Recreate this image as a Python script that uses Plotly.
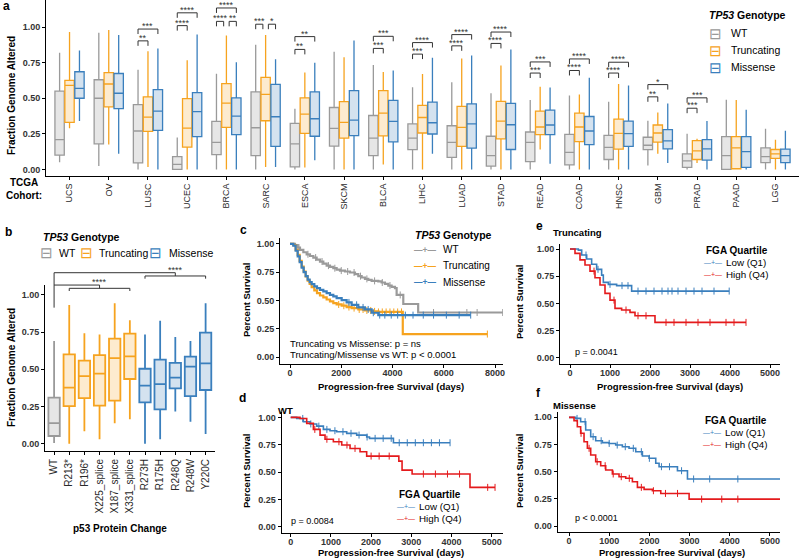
import plotly.graph_objects as go

FONT = "Liberation Sans, Arial, Helvetica, sans-serif"
W, H = 799, 559

GRAY, GRAY_FILL = "#9a9a9a", "#e6e6e6"
ORANGE, ORANGE_FILL = "#f6a31f", "#fdebcf"
BLUE, BLUE_FILL = "#3a7fbd", "#d4e2ef"
RED = "#e41a1c"

# ---------------- Panel a data ----------------
cohorts = ["UCS", "OV", "LUSC", "UCEC", "BRCA", "SARC", "ESCA", "SKCM", "BLCA", "LIHC",
           "LUAD", "STAD", "READ", "COAD", "HNSC", "GBM", "PRAD", "PAAD", "LGG"]
genotypes = ["WT", "Truncating", "Missense"]

wt_lo = [0.05, 0.025, 0, 0, 0, 0, 0, 0, 0, 0, 0, 0, 0, 0, 0, 0.028, 0, 0, 0]
wt_q1 = [0.10, 0.18, 0.046, 0, 0.104, 0.097, 0.018, 0.164, 0.097, 0.139, 0.085, 0.023, 0.055, 0.032, 0.07, 0.139, 0.014, 0, 0.048]
wt_med = [0.21, 0.50, 0.27, 0.035, 0.19, 0.293, 0.18, 0.289, 0.22, 0.22, 0.19, 0.097, 0.19, 0.12, 0.155, 0.17, 0.06, 0.097, 0.09]
wt_q3 = [0.55, 0.63, 0.455, 0.09, 0.337, 0.545, 0.323, 0.435, 0.379, 0.32, 0.307, 0.233, 0.263, 0.247, 0.24, 0.226, 0.11, 0.23, 0.152]
wt_hi = [0.82, 0.96, 0.70, 0.224, 0.672, 0.875, 0.427, 0.827, 0.734, 0.577, 0.612, 0.536, 0.487, 0.52, 0.476, 0.342, 0.25, 0.49, 0.286]

tr_lo = [0.29, 0.175, 0.018, 0, 0, 0.018, 0.014, 0, 0.035, 0, 0, 0, 0.14, 0, 0, 0.11, 0.046, 0, 0]
tr_q1 = [0.33, 0.44, 0.268, 0.157, 0.296, 0.342, 0.254, 0.22, 0.236, 0.256, 0.162, 0.215, 0.245, 0.196, 0.143, 0.192, 0.07, 0.005, 0.078]
tr_med = [0.59, 0.60, 0.367, 0.29, 0.466, 0.527, 0.388, 0.33, 0.395, 0.365, 0.296, 0.34, 0.298, 0.298, 0.254, 0.256, 0.13, 0.152, 0.11]
tr_q3 = [0.626, 0.68, 0.51, 0.497, 0.603, 0.647, 0.503, 0.476, 0.554, 0.45, 0.443, 0.478, 0.41, 0.395, 0.353, 0.312, 0.203, 0.23, 0.14]
tr_hi = [0.965, 0.98, 0.83, 0.767, 0.94, 0.945, 0.68, 0.788, 0.684, 0.67, 0.78, 0.73, 0.58, 0.527, 0.60, 0.40, 0.215, 0.487, 0.208]

mi_lo = [0.34, 0.11, 0, 0, 0, 0.018, 0.065, 0, 0, 0.11, 0, 0, 0.04, 0, 0, 0.046, 0, 0, 0]
mi_q1 = [0.50, 0.427, 0.275, 0.23, 0.245, 0.162, 0.233, 0.238, 0.194, 0.249, 0.15, 0.14, 0.245, 0.175, 0.162, 0.145, 0.065, 0.014, 0.048]
mi_med = [0.57, 0.535, 0.41, 0.406, 0.374, 0.37, 0.356, 0.346, 0.337, 0.328, 0.32, 0.314, 0.312, 0.27, 0.252, 0.20, 0.145, 0.125, 0.097]
mi_q3 = [0.686, 0.674, 0.56, 0.54, 0.503, 0.598, 0.545, 0.554, 0.485, 0.473, 0.46, 0.464, 0.416, 0.372, 0.34, 0.28, 0.21, 0.23, 0.143]
mi_hi = [0.836, 0.945, 0.85, 0.947, 0.753, 0.774, 0.75, 0.905, 0.695, 0.785, 0.80, 0.843, 0.575, 0.644, 0.59, 0.464, 0.34, 0.42, 0.272]

# significance brackets of panel a
sig_cohort = ["LUSC", "LUSC", "UCEC", "UCEC", "BRCA", "BRCA", "BRCA", "SARC", "SARC", "ESCA", "ESCA",
              "BLCA", "BLCA", "LIHC", "LIHC", "LUAD", "LUAD", "STAD", "STAD", "READ", "READ",
              "COAD", "COAD", "HNSC", "HNSC", "GBM", "GBM", "PRAD", "PRAD"]
sig_from = ["WT", "WT", "WT", "WT", "WT", "Truncating", "WT", "WT", "Truncating", "WT", "WT",
            "WT", "WT", "WT", "WT", "WT", "WT", "WT", "WT", "WT", "WT",
            "WT", "WT", "WT", "WT", "WT", "WT", "WT", "WT"]
sig_to = ["Truncating", "Missense", "Truncating", "Missense", "Truncating", "Missense", "Missense", "Truncating", "Missense", "Truncating", "Missense",
          "Truncating", "Missense", "Truncating", "Missense", "Truncating", "Missense", "Truncating", "Missense", "Truncating", "Missense",
          "Truncating", "Missense", "Truncating", "Missense", "Truncating", "Missense", "Truncating", "Missense"]
sig_y = [0.903, 0.986, 1.01, 1.10, 1.04, 1.04, 1.134, 1.02, 1.02, 0.843, 0.933,
         0.85, 0.935, 0.81, 0.891, 0.868, 0.947, 0.885, 0.965, 0.677, 0.755,
         0.695, 0.776, 0.677, 0.753, 0.51, 0.596, 0.43, 0.503]
sig_label = ["**", "***", "****", "****", "****", "**", "****", "***", "*", "**", "**",
             "***", "***", "***", "****", "****", "****", "****", "****", "***", "***",
             "****", "****", "****", "****", "**", "*", "***", "***"]

# ---------------- Panel b data ----------------
mutations = ["WT", "R213*", "R196*", "X225_splice", "X187_splice", "X331_splice",
             "R273H", "R175H", "R248Q", "R248W", "Y220C"]
mut_type = ["WT", "Truncating", "Truncating", "Truncating", "Truncating", "Truncating",
            "Missense", "Missense", "Missense", "Missense", "Missense"]
mut_lo = [0.005, 0, 0.083, 0.03, 0.137, 0.164, 0, 0.03, 0.217, 0.148, 0.065]
mut_q1 = [0.052, 0.253, 0.307, 0.256, 0.289, 0.435, 0.278, 0.231, 0.372, 0.32, 0.361]
mut_med = [0.139, 0.377, 0.455, 0.471, 0.576, 0.587, 0.39, 0.40, 0.444, 0.518, 0.54]
mut_q3 = [0.31, 0.60, 0.558, 0.596, 0.706, 0.74, 0.504, 0.565, 0.543, 0.585, 0.747]
mut_hi = [0.69, 0.933, 0.742, 0.735, 0.944, 0.83, 0.735, 0.827, 0.717, 0.69, 0.944]

b_cmp_first = ["R213*", "R273H"]
b_cmp_last = ["X331_splice", "Y220C"]
b_cmp_outer = [1.067, 1.15]
b_cmp_inner = [1.045, 1.128]
b_cmp_label = ["****", "****"]
b_wt_start = 0.915

# ---------------- Panel c data (Kaplan-Meier by genotype) ----------------
c_wt_t = [0, 195, 300, 390, 520, 650, 780, 910, 1040, 1170, 1300, 1430, 1560, 1690, 1820, 1950, 2145, 2340,
          2535, 2665, 2795, 2925, 3055, 3185, 3445, 3575, 3705, 3835, 3965, 4095, 4160, 4420, 5000]
c_wt_s = [1.0, 0.99, 0.968, 0.947, 0.927, 0.909, 0.894, 0.88, 0.862, 0.845, 0.827, 0.809, 0.798, 0.786, 0.774,
          0.765, 0.757, 0.748, 0.733, 0.716, 0.704, 0.692, 0.683, 0.674, 0.669, 0.66, 0.648, 0.633, 0.622, 0.61,
          0.55, 0.47, 0.395]
c_wt_end = 8300
c_wt_cens = [350, 700, 1000, 1250, 1500, 1750, 2000, 2250, 2500, 2750, 3000, 3300, 3600, 3900, 4300, 5600, 6900, 7300, 8300]

c_tr_t = [0, 130, 220, 300, 377, 455, 533, 611, 689, 767, 845, 949, 1053, 1170, 1300, 1430, 1560, 1690, 1820,
          2015, 2210, 2405, 2665, 2925, 3185, 3445, 4400]
c_tr_s = [1.0, 0.99, 0.947, 0.903, 0.85, 0.80, 0.757, 0.713, 0.677, 0.648, 0.619, 0.59, 0.566, 0.545, 0.528,
          0.51, 0.493, 0.478, 0.466, 0.455, 0.443, 0.434, 0.422, 0.413, 0.405, 0.40, 0.205]
c_tr_end = 7700
c_tr_cens = [1900, 2100, 2300, 2500, 2700, 2850, 3000, 3150, 3300, 3450, 3600, 3750, 3900, 4050, 4200, 4350, 7700]

c_mi_t = [0, 130, 220, 300, 377, 455, 533, 611, 689, 767, 845, 949, 1053, 1170, 1300, 1430, 1560, 1690, 1820,
          2015, 2210, 2405, 2665, 2925, 3185, 3445]
c_mi_s = [1.0, 0.985, 0.94, 0.89, 0.839, 0.792, 0.751, 0.716, 0.686, 0.663, 0.645, 0.625, 0.61, 0.595, 0.581,
          0.566, 0.551, 0.537, 0.522, 0.504, 0.484, 0.463, 0.44, 0.422, 0.393, 0.372]
c_mi_end = 7050
c_mi_cens = [2300, 2600, 2850, 3050, 3250, 3500, 3700, 3950, 4200, 4500, 4800, 5200, 5600, 6100, 6600, 7050]

# ---------------- Panels d, e, f data (FGA quartile) ----------------
d_lo_t = [0, 149, 315, 481, 647, 813, 978, 1144, 1393, 1642, 1891, 1960, 2555]
d_lo_s = [1.0, 0.99, 0.96, 0.94, 0.92, 0.89, 0.878, 0.869, 0.854, 0.838, 0.82, 0.808, 0.768]
d_lo_end = 3964
d_lo_cens = [300, 500, 700, 900, 1100, 1300, 1500, 1700, 1900, 2100, 2300, 2500, 2700, 2900, 3100, 3300, 3500, 3700, 3964]
d_hi_t = [0, 232, 398, 564, 730, 854, 1061, 1269, 1476, 1725, 1890, 2690, 2770, 3020, 4460]
d_hi_s = [1.0, 0.99, 0.945, 0.89, 0.838, 0.80, 0.777, 0.747, 0.716, 0.686, 0.646, 0.60, 0.518, 0.482, 0.36]
d_hi_end = 5083
d_hi_cens = [600, 900, 1200, 1400, 1600, 2000, 2200, 2450, 3300, 3600, 3900, 4200, 4900, 5083]

e_lo_t = [0, 208, 292, 417, 541, 666, 791, 833, 958, 1166, 1541]
e_lo_s = [1.0, 0.99, 0.945, 0.908, 0.86, 0.813, 0.76, 0.693, 0.675, 0.663, 0.613]
e_lo_end = 3980
e_lo_cens = [400, 700, 1000, 1300, 1450, 1700, 1900, 2100, 2300, 2450, 2550, 2700, 2900, 3100, 3300, 3600, 3980]
e_hi_t = [0, 125, 250, 375, 500, 625, 750, 875, 1000, 1125, 1291, 1500, 1625, 2125]
e_hi_s = [1.0, 0.96, 0.90, 0.853, 0.797, 0.736, 0.669, 0.592, 0.53, 0.454, 0.439, 0.417, 0.386, 0.325]
e_hi_end = 4400
e_hi_cens = [600, 1100, 1400, 1700, 1900, 2400, 2600, 2900, 3200, 3500, 3900, 4100, 4400]

f_lo_t = [0, 166, 290, 415, 540, 664, 830, 996, 1162, 1328, 1494, 1660, 1826, 1992, 2158, 2241, 2698, 2947]
f_lo_s = [1.0, 0.99, 0.96, 0.883, 0.822, 0.785, 0.767, 0.76, 0.745, 0.73, 0.715, 0.684, 0.644, 0.623, 0.577,
          0.546, 0.509, 0.433]
f_lo_end = 5270
f_lo_cens = [200, 400, 600, 800, 1000, 1200, 1400, 1600, 1800, 2000, 2300, 2500, 2800, 3100, 3500, 4200, 5270]
f_hi_t = [0, 125, 207, 290, 374, 457, 540, 664, 789, 913, 1079, 1245, 1411, 1577, 1702, 1868, 2075, 2283, 2988]
f_hi_s = [1.0, 0.97, 0.914, 0.853, 0.776, 0.715, 0.653, 0.592, 0.555, 0.515, 0.479, 0.454, 0.439, 0.408, 0.356,
          0.337, 0.325, 0.30, 0.248]
f_hi_end = 5270
f_hi_cens = [300, 500, 700, 900, 1100, 1300, 1500, 1800, 2100, 2400, 2700, 3300, 3800, 4200, 5270]

frac_ticks = [0, 0.25, 0.5, 0.75, 1.0]

# ---------------- helpers ----------------
def px_x(p):
    return p / W


def px_y(p):
    return 1 - p / H


BOXGAP = 0.24
COL = {"WT": (GRAY, GRAY_FILL), "Truncating": (ORANGE, ORANGE_FILL), "Missense": (BLUE, BLUE_FILL)}
KMCOL = {"WT": GRAY, "Truncating": ORANGE, "Missense": BLUE}

fig = go.Figure()

# panel a boxes
stats_a = {"WT": (wt_lo, wt_q1, wt_med, wt_q3, wt_hi),
           "Truncating": (tr_lo, tr_q1, tr_med, tr_q3, tr_hi),
           "Missense": (mi_lo, mi_q1, mi_med, mi_q3, mi_hi)}
for g in genotypes:
    lo, q1, med, q3, hi = stats_a[g]
    fig.add_trace(go.Box(name=g, x=cohorts, lowerfence=lo, q1=q1, median=med, q3=q3, upperfence=hi,
                         line=dict(color=COL[g][0], width=1.3), fillcolor=COL[g][1], whiskerwidth=0,
                         boxpoints=False, offsetgroup=g, xaxis="x", yaxis="y", hoverinfo="skip"))

# panel b boxes
for g in genotypes:
    idx = [i for i, t in enumerate(mut_type) if t == g]
    fig.add_trace(go.Box(name=g, x=[mutations[i] for i in idx],
                         lowerfence=[mut_lo[i] for i in idx], q1=[mut_q1[i] for i in idx],
                         median=[mut_med[i] for i in idx], q3=[mut_q3[i] for i in idx],
                         upperfence=[mut_hi[i] for i in idx],
                         line=dict(color=COL[g][0], width=1.8), fillcolor=COL[g][1], whiskerwidth=0,
                         boxpoints=False, width=0.75, xaxis="x2", yaxis="y2", hoverinfo="skip"))
# empty helper trace so the bracket overlay axis exists
fig.add_trace(go.Scatter(x=[], y=[], xaxis="x2", yaxis="y7", hoverinfo="skip"))


def step_value(times, surv, t):
    v = surv[0]
    for ti, si in zip(times, surv):
        if ti <= t:
            v = si
        else:
            break
    return v


def km(times, surv, end, cens, color, width, xa, ya):
    fig.add_trace(go.Scatter(x=times + [end], y=surv + [surv[-1]], mode="lines",
                             line=dict(color=color, width=width, shape="hv"),
                             xaxis=xa, yaxis=ya, hoverinfo="skip"))
    fig.add_trace(go.Scatter(x=cens, y=[step_value(times, surv, t) for t in cens], mode="markers",
                             marker=dict(symbol="line-ns-open", size=5, color=color,
                                         line=dict(color=color, width=1)),
                             xaxis=xa, yaxis=ya, hoverinfo="skip"))


km(c_wt_t, c_wt_s, c_wt_end, c_wt_cens, GRAY, 2.2, "x3", "y3")
km(c_tr_t, c_tr_s, c_tr_end, c_tr_cens, ORANGE, 2.2, "x3", "y3")
km(c_mi_t, c_mi_s, c_mi_end, c_mi_cens, BLUE, 2.2, "x3", "y3")

km(d_lo_t, d_lo_s, d_lo_end, d_lo_cens, BLUE, 1.6, "x4", "y4")
km(d_hi_t, d_hi_s, d_hi_end, d_hi_cens, RED, 1.6, "x4", "y4")
km(e_lo_t, e_lo_s, e_lo_end, e_lo_cens, BLUE, 1.6, "x5", "y5")
km(e_hi_t, e_hi_s, e_hi_end, e_hi_cens, RED, 1.6, "x5", "y5")
km(f_lo_t, f_lo_s, f_lo_end, f_lo_cens, BLUE, 1.6, "x6", "y6")
km(f_hi_t, f_hi_s, f_hi_end, f_hi_cens, RED, 1.6, "x6", "y6")

# ---------------- shapes: significance brackets ----------------
shapes = []
LINE = dict(color="#333333", width=1)
off = {g: (k - 1) * (1 - BOXGAP) / 3 for k, g in enumerate(genotypes)}
annos = []
INSET = 0.07
for i, (c, g1, g2, yv, lab) in enumerate(zip(sig_cohort, sig_from, sig_to, sig_y, sig_label)):
    ci = cohorts.index(c)
    x1, x2 = ci + off[g1], ci + off[g2]
    # pull apart two brackets that meet on the same box at the same height
    for j, (c2, h1, h2, y2) in enumerate(zip(sig_cohort, sig_from, sig_to, sig_y)):
        if j != i and c2 == c and y2 == yv:
            if h1 == g2:
                x2 -= INSET
            if h2 == g1:
                x1 += INSET
    tip = 0.035
    shapes.append(dict(type="path", xref="x", yref="y",
                       path=f"M{x1},{yv - tip} L{x1},{yv} L{x2},{yv} L{x2},{yv - tip}", line=LINE))
    annos.append(dict(x=(x1 + x2) / 2, y=yv, xref="x", yref="y", text=lab, showarrow=False,
                      yanchor="bottom", yshift=-4, font=dict(family=FONT, size=9, color="#333333")))

wi = mutations.index("WT")
shapes.append(dict(type="line", xref="x2", yref="y7", x0=wi, x1=wi, y0=b_wt_start, y1=max(b_cmp_outer), line=LINE))
for f0, l0, yo, yi, lab in zip(b_cmp_first, b_cmp_last, b_cmp_outer, b_cmp_inner, b_cmp_label):
    i0, i1 = mutations.index(f0), mutations.index(l0)
    cx = (i0 + i1) / 2
    shapes.append(dict(type="path", xref="x2", yref="y7",
                       path=f"M{wi},{yo} L{cx},{yo} L{cx},{yi}", line=LINE))
    shapes.append(dict(type="path", xref="x2", yref="y7",
                       path=f"M{i0},{yi - 0.018} L{i0},{yi} L{i1},{yi} L{i1},{yi - 0.018}", line=LINE))
    annos.append(dict(x=cx, y=yo, xref="x2", yref="y7", text=lab, showarrow=False,
                      yanchor="bottom", yshift=-4, font=dict(family=FONT, size=9, color="#333333")))


# ---------------- text annotations ----------------
def txt(x, y, s, size=10, bold=False, xanchor="left", yanchor="middle", angle=0, color="black"):
    annos.append(dict(x=px_x(x), y=px_y(y), xref="paper", yref="paper", text=s, showarrow=False,
                      xanchor=xanchor, yanchor=yanchor, textangle=angle,
                      font=dict(family=FONT, size=size, color=color, weight="bold" if bold else "normal")))


def colored(s, color):
    return f'<span style="color:{color}">{s}</span>'


# panel letters
txt(1, 6, "a", 12, True)
txt(3, 232, "b", 12, True)
txt(238, 230, "c", 12, True)
txt(237, 398, "d", 12, True)
txt(534, 226, "e", 12, True)
txt(534, 393, "f", 12, True)

# axis titles
txt(11, 96, "Fraction Genome Altered", 10, True, "center", "middle", -90)
txt(11, 368, "Fraction Genome Altered", 10, True, "center", "middle", -90)
txt(120, 528, "p53 Protein Change", 10, True, "center")
txt(4, 189, "TCGA<br>Cohort:", 10, True, "left")
txt(246, 300, "Percent Survival", 9.5, True, "center", "middle", -90)
txt(246, 471, "Percent Survival", 9.5, True, "center", "middle", -90)
txt(519, 302, "Percent Survival", 9.5, True, "center", "middle", -90)
txt(519, 471, "Percent Survival", 9.5, True, "center", "middle", -90)
txt(391, 386, "Progression-free Survival (days)", 9.5, True, "center")
txt(391, 552, "Progression-free Survival (days)", 9.5, True, "center")
txt(670, 386, "Progression-free Survival (days)", 9.5, True, "center")
txt(672, 552, "Progression-free Survival (days)", 9.5, True, "center")

# panel subtitles and p-values
txt(276, 410, "WT", 9.5, True)
txt(551, 233, "Truncating", 9.5, True)
txt(551, 405, "Missense", 9.5, True)
txt(288, 343, "Truncating vs Missense: p = ns", 9.5)
txt(288, 354, "Truncating/Missense vs WT: p < 0.0001", 9.5)
txt(289, 521, "p = 0.0084", 9)
txt(573, 352, "p = 0.0041", 9)
txt(573, 518, "p < 0.0001", 9)

LEG_TITLE = "<i>TP53</i> Genotype"
# legend of panel a (vertical, box keys)
txt(707, 15, LEG_TITLE, 10.5, True)
for k, g in enumerate(genotypes):
    txt(715, 33 + 17 * k, colored("⊟", COL[g][0]), 15, False, "center")
    txt(729, 33 + 17 * k, g, 10.5)

# legend of panel b (horizontal, box keys)
txt(41, 237, LEG_TITLE, 10.5, True)
for gx, tx, g in zip([46.5, 86.5, 155.5], [57, 97, 167], genotypes):
    txt(gx, 253, colored("⊟", COL[g][0]), 15, False, "center")
    txt(tx, 253, g, 10.5)

# legend of panel c (lines with censor ticks)
txt(413, 235, LEG_TITLE, 10.5, True)
for k, g in enumerate(genotypes):
    txt(425, 249.5 + 16.3 * k, colored("<b>—+—</b>", KMCOL[g]), 8.5, False, "center")
    txt(441, 249.5 + 16.3 * k, g, 10)

# FGA quartile legends for d, e, f
for (lx, ly) in [(397, 494), (704, 250), (703, 420.5)]:
    txt(lx, ly, "FGA Quartile", 10, True)
    txt(lx + 9, ly + 12, colored("—+—", BLUE), 7, False, "center")
    txt(lx + 20, ly + 12, "Low (Q1)", 9.8)
    txt(lx + 9, ly + 24, colored("—+—", RED), 7, False, "center")
    txt(lx + 20, ly + 24, "High (Q4)", 9.8)

# ---------------- axes ----------------
TICKF = dict(family=FONT, size=9, color="#333333", weight="bold")
CATF = dict(family=FONT, size=9, color="#2a2a2a")


def ax(**kw):
    d = dict(showline=True, linecolor="black", linewidth=1, ticks="outside", ticklen=3, tickwidth=1,
             tickcolor="black", showgrid=False, zeroline=False, tickfont=TICKF, fixedrange=True,
             automargin=False)
    d.update(kw)
    return d


layout = dict(
    width=W, height=H, margin=dict(l=0, r=0, t=0, b=0, autoexpand=False),
    paper_bgcolor="white", plot_bgcolor="rgba(0,0,0,0)", showlegend=False,
    font=dict(family=FONT, size=10, color="black"),
    boxmode="group", boxgap=BOXGAP, boxgroupgap=0.06,
    xaxis=ax(domain=[px_x(46), 1.0], type="category", categoryorder="array", categoryarray=cohorts,
             range=[-0.6, 18.6], tickangle=-90, tickfont=CATF, anchor="y"),
    yaxis=ax(domain=[px_y(176), px_y(0)], range=[-0.046, 1.19], tickvals=frac_ticks, tickformat=".2f", anchor="x"),
    xaxis2=ax(domain=[px_x(45), px_x(214.7)], type="category", categoryorder="array", categoryarray=mutations,
              range=[-0.6, 10.6], tickangle=-90, tickfont=dict(family=FONT, size=10, color="#2a2a2a"), anchor="y2"),
    yaxis2=ax(domain=[px_y(451), px_y(285)], range=[-0.049, 1.067], tickvals=frac_ticks, tickformat=".2f", anchor="x2"),
    yaxis7=dict(domain=[px_y(451), px_y(262)], range=[-0.049, -0.049 + 189 / 148.7], visible=False,
                anchor="x2", fixedrange=True),
    xaxis3=ax(domain=[px_x(280), px_x(503)], range=[-390, 8310], tickvals=[0, 2000, 4000, 6000, 8000],
              ticklabelstandoff=-3, anchor="y3"),
    yaxis3=ax(domain=[px_y(364.3), px_y(238.3)], range=[-0.062, 1.05], tickvals=frac_ticks, tickformat=".2f", anchor="x3"),
    xaxis4=ax(domain=[px_x(281.7), px_x(503)], range=[-224, 5281], dtick=1000, tick0=0,
              ticklabelstandoff=-3, anchor="y4"),
    yaxis4=ax(domain=[px_y(533.3), px_y(411.9)], range=[-0.06, 1.05], tickvals=frac_ticks, tickformat=".2f", anchor="x4"),
    xaxis5=ax(domain=[px_x(560), px_x(780)], range=[-250, 5250], dtick=1000, tick0=0,
              ticklabelstandoff=-3, anchor="y5"),
    yaxis5=ax(domain=[px_y(364), px_y(243.6)], range=[-0.058, 1.05], tickvals=frac_ticks, tickformat=".2f", anchor="x5"),
    xaxis6=ax(domain=[px_x(557.7), px_x(780)], range=[-281, 5249], dtick=1000, tick0=0,
              ticklabelstandoff=-3, anchor="y6"),
    yaxis6=ax(domain=[px_y(531.7), px_y(411.9)], range=[-0.052, 1.05], tickvals=frac_ticks, tickformat=".2f", anchor="x6"),
    shapes=shapes,
    annotations=annos,
)
fig.update_layout(**layout)
fig.write_html("out.html", config={"displayModeBar": False},
               post_script="document.body.style.margin='0px';")
